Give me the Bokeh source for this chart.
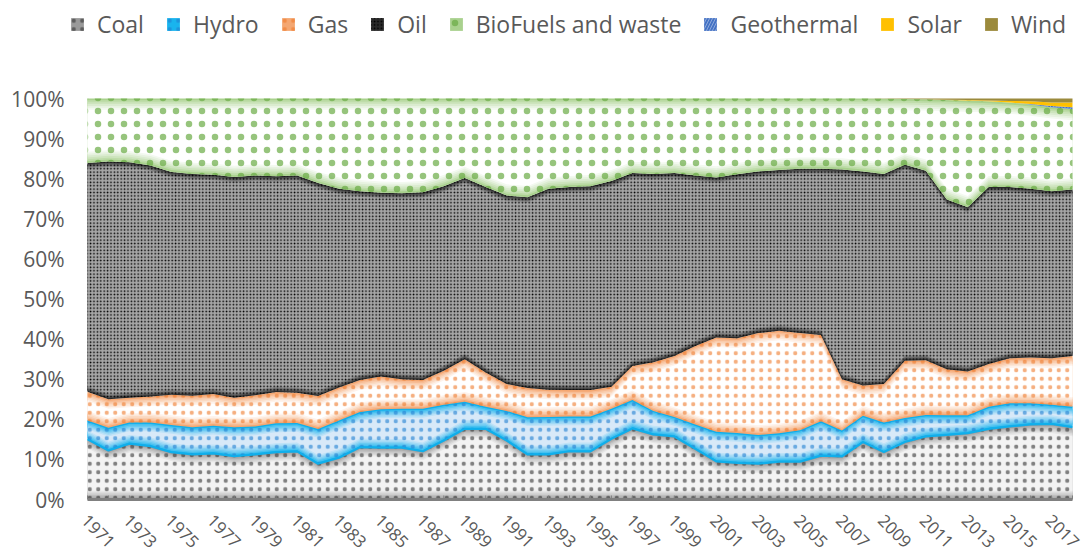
import numpy as np
from bokeh.plotting import figure
from bokeh.models import Range1d, Legend, LegendItem, ColumnDataSource
from bokeh.core.properties import value
from bokeh.embed import file_html
from bokeh.resources import INLINE

# ---------------- data (share of total, %) ----------------
years = list(range(1971, 2019))

coal = [15.0, 12.2, 13.9, 13.3, 11.8, 11.2, 11.5, 10.8, 11.2, 11.8, 12.0, 8.9,
        10.4, 13.0, 12.9, 12.9, 12.0, 14.7, 17.6, 17.6, 14.7, 11.2, 11.2, 12.0,
        12.0, 15.1, 17.7, 16.2, 15.7, 12.6, 9.5, 9.1, 8.9, 9.4, 9.4, 10.9,
        10.7, 14.3, 11.8, 14.3, 15.7, 16.1, 16.5, 17.6, 18.2, 18.7, 18.8, 18.0]
hydro = [4.7, 5.7, 5.3, 5.9, 6.8, 6.8, 6.9, 7.2, 7.0, 7.2, 7.1, 8.7,
         9.3, 8.8, 9.6, 9.7, 10.6, 8.9, 6.8, 5.5, 7.4, 9.3, 9.4, 8.7,
         8.7, 7.5, 7.1, 5.9, 4.9, 6.1, 7.4, 7.5, 7.2, 7.1, 7.9, 8.6,
         6.5, 6.6, 7.4, 6.0, 5.4, 4.9, 4.5, 5.5, 5.8, 5.3, 4.8, 5.1]
gas = [7.2, 7.1, 6.2, 6.5, 7.5, 7.9, 7.9, 7.4, 7.8, 7.8, 7.5, 8.2,
       8.2, 8.0, 8.2, 7.4, 7.2, 8.5, 10.6, 8.6, 6.7, 7.3, 6.8, 6.6,
       6.6, 5.5, 8.5, 12.1, 15.2, 19.6, 23.5, 23.6, 25.4, 25.6, 24.2, 21.5,
       12.8, 7.5, 9.6, 14.3, 13.6, 11.5, 10.9, 10.7, 11.2, 11.4, 11.6, 12.7]
oil = [57.0, 59.3, 58.7, 57.6, 55.6, 55.3, 54.7, 55.0, 54.8, 53.8, 54.2, 53.1,
       49.6, 47.1, 45.8, 46.4, 46.8, 46.0, 45.2, 46.2, 47.0, 47.6, 50.1, 50.6,
       50.8, 51.3, 48.1, 47.0, 45.6, 42.5, 39.9, 40.9, 40.3, 40.1, 41.0, 41.5,
       52.3, 53.4, 52.4, 48.9, 47.3, 42.3, 41.0, 44.1, 42.7, 42.1, 41.7, 41.5]
biofuels = [16.1, 15.7, 15.9, 16.7, 18.3, 18.8, 19.0, 19.6, 19.2, 19.4, 19.2, 21.1,
            22.5, 23.1, 23.5, 23.6, 23.4, 21.9, 19.8, 22.1, 24.2, 24.6, 22.5, 22.1,
            21.9, 20.6, 18.6, 18.8, 18.6, 19.2, 19.7, 18.9, 18.2, 17.8, 17.5, 17.5,
            17.7, 18.2, 18.75, 16.4, 17.8, 24.85, 26.6, 21.4, 21.1, 21.0, 20.9, 20.1]
geothermal = [0.0] * 45 + [0.1, 0.3, 0.4]
solar = [0.0] * 41 + [0.05, 0.1, 0.2, 0.4, 0.7, 0.9, 1.2]
wind = [0.0] * 38 + [0.05, 0.1, 0.2, 0.3, 0.4, 0.5, 0.6, 0.7, 1.0, 1.0]

names = ["Coal", "Hydro", "Gas", "Oil", "BioFuels and waste", "Geothermal", "Solar", "Wind"]
series = [coal, hydro, gas, oil, biofuels, geothermal, solar, wind]

y_ticks = list(range(0, 101, 10))
y_tick_labels = ["%d%%" % v for v in y_ticks]
x_label_years = years[::2]
x_labels = [str(y) for y in x_label_years]

# ---------------- styles ----------------
styles = {
    "Coal":  dict(edge="#9a9a9a", center="#f3f3f3", hatch="#333333", alpha=0.6, pat=".", scale=8.5, w=0.1, glow=2.2),
    "Hydro": dict(edge="#19b4ee", center="#d8e9f8", hatch="#1f7fd0", alpha=0.6, pat=".", scale=8.5, w=0.1, glow=2.2),
    "Gas":   dict(edge="#f4a772", center="#ffffff", hatch="#ee7a2c", alpha=0.6, pat=".", scale=8.5, w=0.1, glow=2.4),
    "Oil":   dict(edge="#2a2a2a", center="#a6a6a6", hatch="#000000", alpha=1.0, pat=".", scale=3.4, w=1.5, glow=1.4),
    "BioFuels and waste": dict(edge="#a9d18e", center="#ffffff", hatch="#6aab44", alpha=0.7, pat=".", scale=13, w=0.1, glow=2.8),
    "Geothermal": dict(edge="#4472c4", center="#4472c4", hatch="#8faadc", alpha=1.0, pat="/", scale=6, w=1, glow=0),
    "Solar": dict(edge="#ffc000", center="#ffc000", hatch="#ffd966", alpha=1.0, pat=" ", scale=6, w=1, glow=0),
    "Wind":  dict(edge="#9b8a3c", center="#9b8a3c", hatch="#b5a55a", alpha=1.0, pat=" ", scale=6, w=1, glow=0),
}


def blend(c1, c2, t):
    a = [int(c1[i:i + 2], 16) for i in (1, 3, 5)]
    b = [int(c2[i:i + 2], 16) for i in (1, 3, 5)]
    return "#%02x%02x%02x" % tuple(int(round(a[k] + (b[k] - a[k]) * t)) for k in range(3))


# normalise to 100 %
arr = np.array(series, dtype=float)
arr = arr / arr.sum(axis=0) * 100.0
cum = np.vstack([np.zeros(arr.shape[1]), np.cumsum(arr, axis=0)])

# ---------------- geometry (pixels) ----------------
W, H = 1086, 557
PX_L, PX_R, PX_T, PX_B = 87, 1072, 98, 499     # plot area in canvas pixels
sx = (PX_R - PX_L) / (years[-1] - years[0])
sy = (PX_B - PX_T) / 100.0
x0 = years[0] - PX_L / sx
x1 = years[0] + (W - PX_L) / sx
y0 = -(H - PX_B) / sy
y1 = 100 + PX_T / sy

FONT = "Open Sans"
GREY = "#595959"
p = figure(width=W, height=H, output_backend="svg", toolbar_location=None,
           x_range=Range1d(x0, x1), y_range=Range1d(y0, y1),
           x_axis_location=None, y_axis_location=None,
           min_border=0)
p.outline_line_color = None
p.xgrid.visible = False
p.ygrid.visible = False
p.background_fill_color = "white"
p.border_fill_color = "white"

items = []
for i, name in enumerate(names):
    st = styles[name]
    bottom = cum[i]
    top = cum[i + 1]
    half = (top - bottom) / 2.0
    renderers = []
    nl = 7 if st["glow"] > 0 else 1
    for k in range(nl):
        t = k / (nl - 1) if nl > 1 else 0.0
        ins = np.minimum(st["glow"] * t, half)
        col = blend(st["edge"], st["center"], t ** 0.8)
        src = ColumnDataSource(dict(x=years, y1=bottom + ins, y2=top - ins))
        r = p.varea(x="x", y1="y1", y2="y2", source=src, fill_color=col)
        if k == 0:
            renderers.append(r)
    if st["pat"] != " ":
        src = ColumnDataSource(dict(x=years, y1=bottom, y2=top))
        rh = p.varea(x="x", y1="y1", y2="y2", source=src, fill_alpha=0,
                     hatch_pattern=st["pat"], hatch_color=st["hatch"],
                     hatch_alpha=st["alpha"],
                     hatch_scale=st["scale"], hatch_weight=st["w"])
        renderers.append(rh)
    if name == "Hydro":
        p.line(years, bottom, line_color="#10aeea", line_width=2)
        p.line(years, top, line_color="#10aeea", line_width=2)
    items.append(LegendItem(label=name, renderers=renderers))

# ---------------- axes drawn as glyphs ----------------
p.segment(x0=[years[0]], y0=[0], x1=[years[-1]], y1=[0], line_color="#808080", line_width=3)
p.segment(x0=years, y0=[0] * len(years), x1=years, y1=[1.0] * len(years),
          line_color="#808080", line_width=1)
p.text(x=x_label_years, y=[0] * len(x_label_years), text=x_labels,
       angle=-np.pi / 4, text_align="left", text_baseline="middle",
       x_offset=-3, y_offset=18, text_font=value(FONT), text_font_size="17px",
       text_color=GREY)
p.text(x=[years[0]] * len(y_ticks), y=y_ticks, text=y_tick_labels,
       text_align="right", text_baseline="middle", x_offset=-23,
       text_font=value(FONT), text_font_size="21px", text_color=GREY)

legend = Legend(items=items, location=(69, H - 40), orientation="horizontal",
                label_text_font=FONT, label_text_font_size="23px",
                label_text_color=GREY, glyph_width=16, glyph_height=16,
                label_standoff=12, spacing=21, padding=0, margin=0,
                border_line_alpha=0, background_fill_alpha=0)
p.add_layout(legend, "center")

open("out.html", "w").write(file_html(p, INLINE))
